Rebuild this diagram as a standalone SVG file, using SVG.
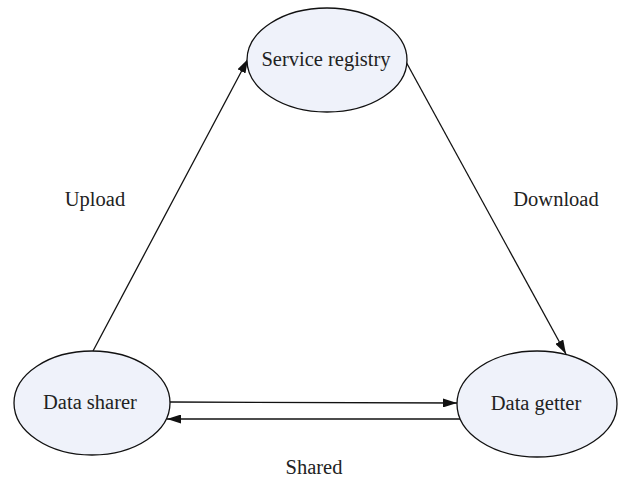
<svg xmlns="http://www.w3.org/2000/svg" width="618" height="479" viewBox="0 0 618 479">
<defs>
<marker id="ah" viewBox="0 0 14 9" refX="14" refY="4.5" markerWidth="14" markerHeight="9" markerUnits="userSpaceOnUse" orient="auto">
<path d="M0,0 L14,4.5 L0,9 Z" fill="#111"/>
</marker>
<style>
.node ellipse{fill:#eff2fa;stroke:#111;stroke-width:1.3}
text{font-family:"Liberation Serif","DejaVu Serif",serif;font-size:20.5px;fill:#222;text-anchor:middle}
.edge{stroke:#111;stroke-width:1.3;fill:none;marker-end:url(#ah)}
</style>
</defs>
<rect width="618" height="479" fill="#fff"/>
<g id="connectors">
<line class="edge" x1="93" y1="351" x2="248" y2="59"/>
<line class="edge" x1="405" y1="60" x2="566" y2="354"/>
<line class="edge" x1="170" y1="402" x2="457" y2="403"/>
<line class="edge" x1="460" y1="419" x2="167" y2="419"/>
</g>
<g id="service-registry" class="node">
<ellipse cx="327" cy="60" rx="80" ry="52"/>
<text x="326" y="66">Service registry</text>
</g>
<g id="data-sharer" class="node">
<ellipse cx="92" cy="403" rx="78" ry="52"/>
<text x="90" y="409">Data sharer</text>
</g>
<g id="data-getter" class="node">
<ellipse cx="537" cy="404" rx="80" ry="53"/>
<text x="536" y="410">Data getter</text>
</g>
<text x="95" y="206">Upload</text>
<text x="556" y="206">Download</text>
<text x="314" y="474">Shared</text>
</svg>
